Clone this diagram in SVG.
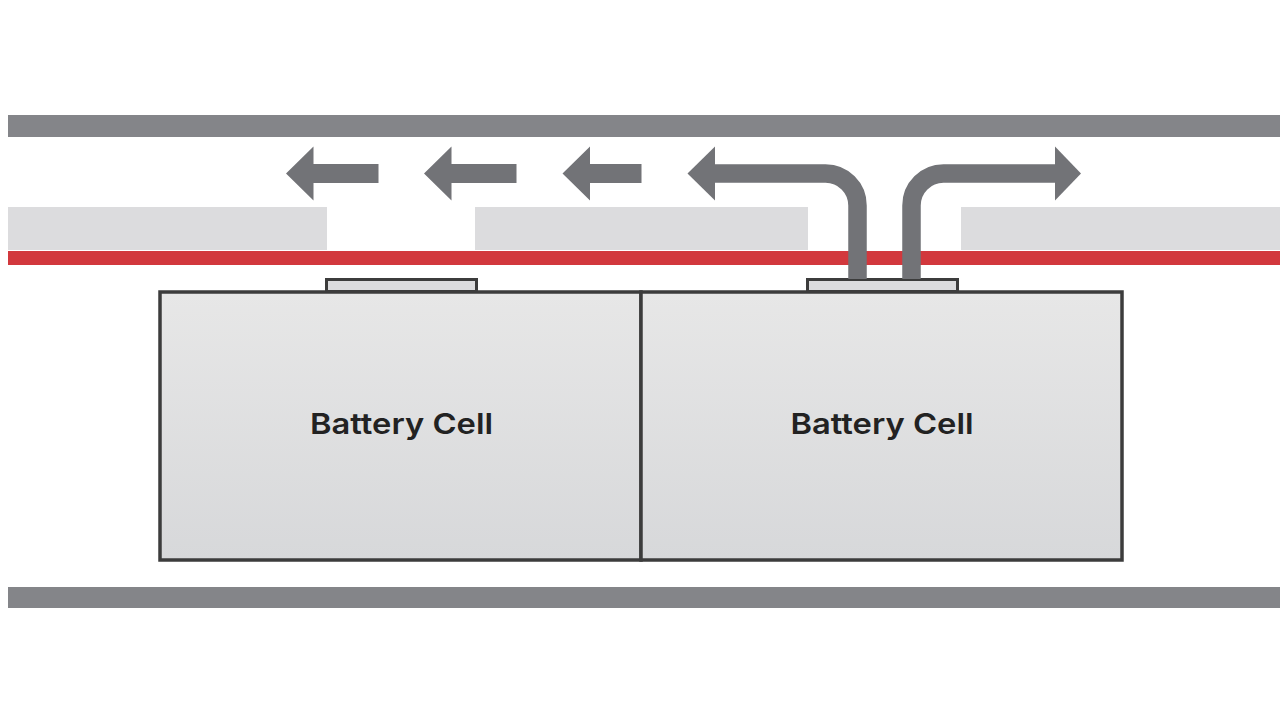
<svg xmlns="http://www.w3.org/2000/svg" width="1280" height="720" viewBox="0 0 1280 720">
<defs>
<linearGradient id="cellGrad" x1="0" y1="0" x2="0" y2="1">
<stop offset="0" stop-color="#e7e7e7"/>
<stop offset="1" stop-color="#d7d8da"/>
</linearGradient>
<style>
.bar{fill:#848589}
.pad{fill:#dcdcde}
.red{fill:#d2383d}
.cell{fill:url(#cellGrad);stroke:#3c3c3c;stroke-width:3.5}
.term{fill:#dcdcde;stroke:#3c3c3c;stroke-width:3}
.arrow{fill:#727377}
.flow{fill:none;stroke:#727377;stroke-width:18.5}
.label{font-family:Inter,"Liberation Sans",sans-serif;font-weight:600;font-size:29px;fill:#222222;text-anchor:middle}
</style>
</defs>
<rect width="1280" height="720" fill="#ffffff"/>
<g id="structure">
<rect class="bar" x="8" y="115" width="1272" height="22"/>
<rect class="bar" x="8" y="587" width="1272" height="21"/>
<rect class="pad" x="8" y="207" width="319" height="43"/>
<rect class="pad" x="475" y="207" width="333" height="43"/>
<rect class="pad" x="961" y="207" width="319" height="43"/>
<rect class="red" x="8" y="251" width="1272" height="14"/>
</g>
<g id="cell-left">
<rect class="term" x="326.5" y="279.5" width="150" height="12"/>
<rect class="cell" x="160" y="292" width="481" height="268"/>
<text class="label" x="401.5" y="434" textLength="183" lengthAdjust="spacingAndGlyphs">Battery Cell</text>
</g>
<g id="cell-right">
<rect class="term" x="807.5" y="279.5" width="150" height="12"/>
<rect class="cell" x="641" y="292" width="481" height="268"/>
<text class="label" x="882" y="434" textLength="183" lengthAdjust="spacingAndGlyphs">Battery Cell</text>
</g>
<g id="connectors">
<polygon class="arrow" points="286,173.5 313.5,146.5 313.5,164 378.5,164 378.5,183 313.5,183 313.5,200.5"/>
<polygon class="arrow" points="424,173.5 451.5,146.5 451.5,164 516.5,164 516.5,183 451.5,183 451.5,200.5"/>
<polygon class="arrow" points="562.5,173.5 590,146.5 590,164 641.5,164 641.5,183 590,183 590,200.5"/>
<path class="flow" d="M 714 173.5 H 825.5 A 32 32 0 0 1 857.5 205.5 V 279"/>
<polygon class="arrow" points="687.5,173.5 715,146.5 715,200.5"/>
<path class="flow" d="M 1056 173.5 H 943.5 A 32 32 0 0 0 911.5 205.5 V 279"/>
<polygon class="arrow" points="1081,173.5 1055,146.5 1055,200.5"/>
</g>
</svg>
